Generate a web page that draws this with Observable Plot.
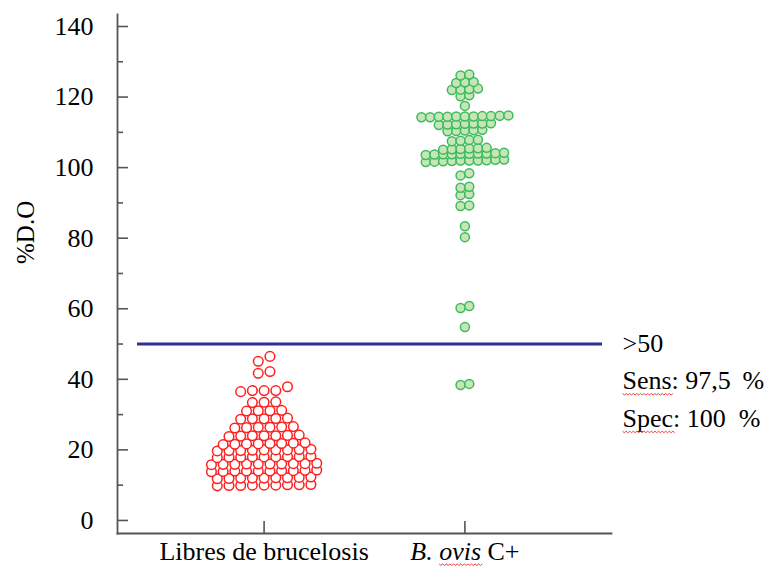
<!DOCTYPE html>
<html><head><meta charset="utf-8">
<script src="https://cdn.jsdelivr.net/npm/d3@7"></script>
<script src="https://cdn.jsdelivr.net/npm/@observablehq/plot@0.6"></script>
<style>body{margin:0;background:#fff}</style>
</head><body><div id="chart"></div>
<script>
const categories = ["Libres de brucelosis", "B. ovis C+"];
const libresValues = [
  9.8, 9.9, 10, 10, 10.1, 10.2, 10, 9.9, 10.1,
  12, 12.1, 12.2, 11.9, 12, 12.3, 12.1, 12, 11.8,
  14, 14.1, 13.9, 14.2, 14, 14, 13.8, 14.1, 14.3, 14,
  16, 15.9, 16.1, 16, 16.2, 15.8, 16, 16.1, 16, 15.9,
  18, 17.9, 18.1, 18, 18.2, 17.8, 18, 18.1, 17.9,
  19.8, 20, 19.9, 20.1, 19.8, 20, 20.2, 19.7, 20,
  21.7, 21.8, 21.6, 22, 21.7, 21.9, 21.5, 21.8,
  24, 23.9, 24.1, 24, 24.2, 23.8, 24,
  26.4, 26.3, 26.5, 26.4, 26.2, 26.6,
  28.8, 28.9, 28.7, 29, 28.8,
  31.1, 31.2, 31, 31.1,
  33.5, 33.6, 33.4,
  36.8, 36.8, 37.9, 36.5, 36.8,
  42.2, 41.7,
  45.1, 46.5
];
const ovisValues = [
  38.4, 38.7, 54.8, 60.2, 60.8, 80.3, 83.4,
  89.1, 89.3, 92.2, 92.5, 94.3, 94.6, 97.8, 98.4,
  101.6, 101.8, 102, 102.1, 101.9, 102.2, 102, 101.7, 102.3, 102,
  103.7, 103.9, 104, 103.8, 104.1, 103.9, 104.2, 103.6, 104, 103.8,
  105.2, 105.4, 105.5, 105.1, 105.3, 105.6,
  107.5, 107.8, 107.6, 107.9,
  110.3, 110.6, 110.4, 110.7, 110.5,
  112.2, 112.5, 112.3, 112.6, 112.4, 112.1, 112.5,
  114.3, 114.5, 114.6, 114.4, 114.7, 114.5, 114.3, 114.6, 114.4, 114.8, 114.5,
  117.5, 120.2, 120.5, 122, 122.3, 122.1, 122.4, 124, 124.2, 124.3, 126.1, 126.4
];
const yTicks = [0, 20, 40, 60, 80, 100, 120, 140];
const yMinorTicks = [10, 30, 50, 70, 90, 110, 130];
const cutoff = [50];
const annotationLines = [">50", "Sens: 97,5\u00a0\u2009%", "Spec: 100\u00a0\u00a0%"];
const misspelled = ["ovis", "Sens", "Spec"];

const W = 768, H = 567, mL = 117, mR = 157, mT = 14, mB = 34;
const fw = W - mL - mR, fh = H - mT - mB;
const pad = 0.73;
const step = fw / (categories.length - 1 + 2 * pad);   // px per category unit
const catIdx = categories.map((_, i) => i);

// dot-plot layout (as in the source software): values close together share a row,
// each row is spread symmetrically around its category
function swarm(values, ci, tol, spacingPx) {
  const sorted = values.slice().sort(d3.ascending);
  const rows = []; let cur = null;
  for (const v of sorted) { if (!cur || v - cur[0] > tol) rows.push(cur = []); cur.push(v); }
  const u = spacingPx / step;
  return rows.flatMap(r => r.map((v, i) => ({cat: ci, value: v, pos: ci + (i - (r.length - 1) / 2) * u})));
}
const libres = swarm(libresValues, 0, 1.5, 11.7);
const ovis = swarm(ovisValues, 1, 1.2, 8.7);

const axisColor = "#555";
const font = "'Liberation Serif', 'Times New Roman', serif";

const plot = Plot.plot({
  width: W, height: H, marginLeft: mL, marginRight: mR, marginTop: mT, marginBottom: mB,
  style: {fontFamily: font, fontSize: "26px", color: "#000", background: "white"},
  x: {domain: [-pad, categories.length - 1 + pad], axis: null},
  y: {domain: [-3.7, 143.4], axis: null},
  marks: [
    Plot.frame({anchor: "left", stroke: axisColor, strokeWidth: 1.8}),
    Plot.frame({anchor: "bottom", stroke: axisColor, strokeWidth: 1.8}),
    Plot.tickY(yTicks, {y: d => d, insetRight: fw - 11, stroke: axisColor, strokeWidth: 1.6}),
    Plot.tickY(yMinorTicks, {y: d => d, insetRight: fw - 6, stroke: axisColor, strokeWidth: 1.6}),
    Plot.tickX(catIdx, {x: d => d, insetTop: fh - 12, stroke: axisColor, strokeWidth: 1.6}),
    Plot.axisY({ticks: yTicks, tickSize: 0, tickPadding: 24, label: null, fontSize: 26}),
    Plot.axisX({ticks: catIdx, tickFormat: i => categories[i], tickSize: 0, tickPadding: 8, label: null, fontSize: 26}),
    Plot.text(["%D.O"], {frameAnchor: "left", rotate: -90, dx: -92, dy: -10, fontSize: 25}),
    Plot.ruleY(cutoff, {y: d => d, stroke: "#2e3192", strokeWidth: 3, insetLeft: 20, insetRight: 9}),
    Plot.dot(libres, {x: "pos", y: "value", r: 4.8, fill: "white", stroke: "#ff1f1f", strokeWidth: 1.5}),
    Plot.dot(ovis, {x: "pos", y: "value", r: 4.5, fill: "#c6e6b8", stroke: "#3dbb5c", strokeWidth: 1.5}),
    Plot.text(cutoff, {y: d => d, text: () => annotationLines.join("\n"), frameAnchor: "right",
      textAnchor: "start", dx: 11, dy: -19, lineAnchor: "top", lineHeight: 1.45, fontSize: 26})
  ]
});
document.getElementById("chart").appendChild(plot);

const ns = "http://www.w3.org/2000/svg";
// italic species name
plot.querySelectorAll("text").forEach(t => {
  if (t.textContent === "B. ovis C+") {
    t.textContent = "";
    const a = document.createElementNS(ns, "tspan");
    a.setAttribute("font-style", "italic"); a.textContent = "B. ovis";
    t.append(a, document.createTextNode(" C+"));
  }
});
// spell-check squiggles under the words the original document flagged
plot.querySelectorAll("text").forEach(t => {
  const s = t.textContent;
  misspelled.forEach(w => {
    const i = s.indexOf(w);
    if (i < 0) return;
    const p0 = t.getStartPositionOfChar(i);
    const p1 = t.getEndPositionOfChar(i + w.length - 1);
    const y = p0.y + 4;
    let d = `M${p0.x},${y}`;
    for (let x = p0.x, k = 0; x < p1.x; x += 1.8, k++) d += `L${x + 1.8},${y + (k % 2 ? 0 : 1.5)}`;
    const path = document.createElementNS(ns, "path");
    path.setAttribute("d", d);
    path.setAttribute("fill", "none");
    path.setAttribute("stroke", "#e53030");
    path.setAttribute("stroke-width", "0.9");
    const tr = t.getAttribute("transform");
    if (tr) path.setAttribute("transform", tr);
    t.parentNode.appendChild(path);
  });
});
</script>
</body></html>
